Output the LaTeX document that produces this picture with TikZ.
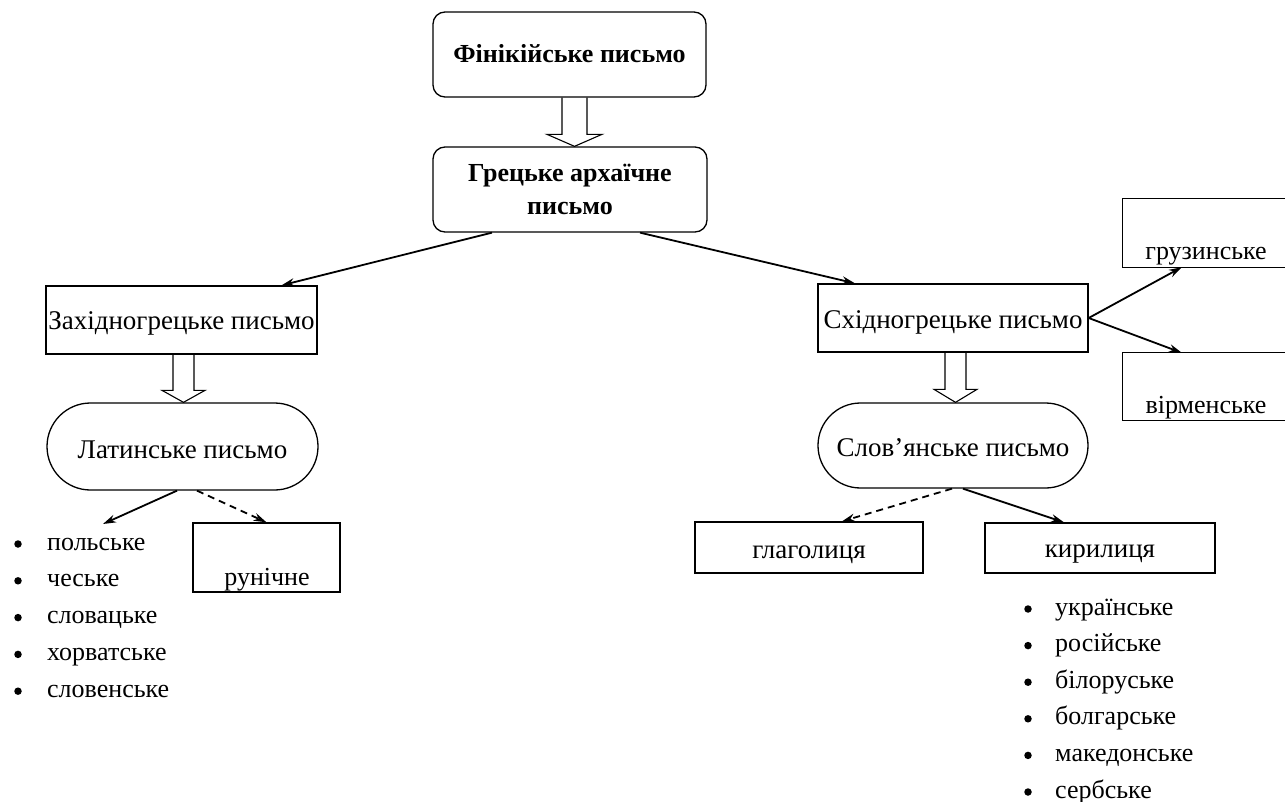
\documentclass[tikz,border=0pt]{standalone}
\usepackage{fontspec}
\setmainfont{Liberation Serif}
\usetikzlibrary{shapes.misc,arrows.meta,calc}

% open "hollow" down arrow: #1 top centre of the shaft, #2 tip,
% #3 shaft half width, #4 head half width, #5 head length
\newcommand\hollowdown[5]{%
  \draw[hollow] let \p1=#1, \p2=#2 in
    (\x1-#3,\y1) -- (\x1-#3,\y2+#5) -- (\x1-#4,\y2+#5) -- (\x1,\y2)
    -- (\x1+#4,\y2+#5) -- (\x1+#3,\y2+#5) -- (\x1+#3,\y1);}

\begin{document}
\begin{tikzpicture}[x=1pt,y=-1pt,
  every node/.style={font=\fontsize{27}{32}\selectfont, inner sep=0pt},
  box/.style={draw, line width=1.3pt},
  rbox/.style={box, rounded corners=12pt, font=\bfseries\fontsize{26}{33}\selectfont, align=center},
  oval/.style={box, rounded rectangle},
  tb/.style={text height=#1, text depth=0pt},
  link/.style={line width=1.8pt, -{Stealth[length=13pt,width=8pt]}},
  dlink/.style={link, dash pattern=on 7pt off 5pt},
  hollow/.style={line width=1.1pt},
  bul/.style={circle, fill, minimum size=7.5pt},
  item/.style={anchor=base west, font=\fontsize{26}{30}\selectfont},
  lbl/.style={anchor=base, font=\fontsize{26}{30}\selectfont},
]
\useasboundingbox (0,0) rectangle (1285,802);

% main chain
\node[rbox, tb=17pt, minimum width=273pt, minimum height=85pt] (phoen) at (569.5,54.5) {Фінікійське письмо};
\node[rbox, minimum width=274pt, minimum height=85pt] (greek) at (570,189.5) {Грецьке архаїчне\\письмо};
\node[box, tb=20pt, minimum width=271pt, minimum height=68pt] (west) at (181.5,320) {Західногрецьке письмо};
\node[box, tb=20pt, minimum width=270pt, minimum height=68pt] (east) at (953,318) {Східногрецьке письмо};
\node[oval, tb=23pt, minimum width=271pt, minimum height=87pt] (latin) at (182.5,446.5) {Латинське письмо};
\node[oval, tb=21pt, minimum width=270pt, minimum height=85pt] (slav) at (953,445.5) {Слов’янське письмо};

% side boxes, running off the right edge
\node[minimum width=170pt, minimum height=68pt] (geo) at (1208,233) {};
\draw[box] (geo.north east) -- (geo.north west) -- (geo.south west) -- (geo.south east);
\node[lbl] (geotxt) at (1206,260) {грузинське};
\node[minimum width=170pt, minimum height=67pt] (arm) at (1208,386.5) {};
\draw[box] (arm.north east) -- (arm.north west) -- (arm.south west) -- (arm.south east);
\node[lbl] (armtxt) at (1206,413) {вірменське};

\node[box, minimum width=147pt, minimum height=69pt] (runic) at (266.5,557.5) {};
\node[lbl] (runtxt) at (267,585) {рунічне};
\node[box, tb=21pt, minimum width=228pt, minimum height=51pt] (glag) at (809,547.5) {глаголиця};
\node[box, tb=18pt, minimum width=230pt, minimum height=50pt] (cyr) at (1100,548) {кирилиця};

% hollow arrows
\hollowdown{([xshift=5pt]phoen.south)}{([xshift=5pt]greek.north)}{12.5pt}{27.5pt}{12pt}
\hollowdown{([xshift=2pt]west.south)}{([xshift=2pt]latin.north)}{10.5pt}{21.5pt}{12pt}
\hollowdown{([xshift=2.5pt]east.south)}{([xshift=2.5pt]slav.north)}{10.5pt}{21.5pt}{13pt}

% branches
\draw[link] ([xshift=-78pt]greek.south) -- ([xshift=100pt]west.north);
\draw[link] ([xshift=70pt]greek.south) -- ([xshift=-98pt]east.north);
\draw[link] (east.east) -- ([xshift=59pt]geo.south west);
\draw[link] (east.east) -- ([xshift=59pt]arm.north west);

\coordinate (latlist) at (103,524);
\draw[link] ([xshift=-5.5pt]latin.south) -- (latlist);
\draw[dlink] ([xshift=14.5pt]latin.south) -- (runic.north);
\draw[dlink] ([xshift=-1pt]slav.south) -- ([xshift=33pt]glag.north);
\draw[link] ([xshift=10pt]slav.south) -- ([xshift=-36pt]cyr.north);

% languages written in Latin script
\foreach \t [count=\i] in {польське,чеське,словацьке,хорватське,словенське}{
  \node[bul] (lb\i) at (18,{544+36.8*(\i-1)}) {};
  \node[item] (li\i) at (47,{550+36.8*(\i-1)}) {\t};
}
% languages written in Cyrillic
\foreach \t [count=\i] in {українське,російське,білоруське,болгарське,македонське,сербське}{
  \node[bul] (cb\i) at (1028,{609+36.6*(\i-1)}) {};
  \node[item] (ci\i) at (1055,{615+36.6*(\i-1)}) {\t};
}
\end{tikzpicture}
\end{document}
